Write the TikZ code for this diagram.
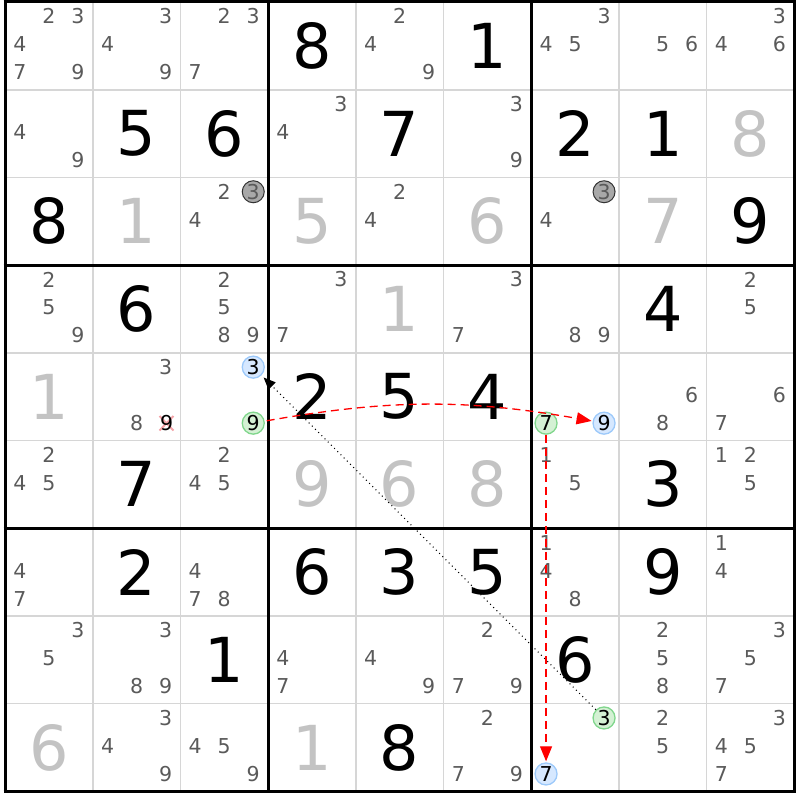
\documentclass[tikz,border=0pt]{standalone}
\usepackage{fontspec}
\setmainfont{DejaVu Sans}
\usepackage{tikz}
\usetikzlibrary{arrows.meta}
\definecolor{candgray}{HTML}{5A5A5A}
\definecolor{solvedgray}{HTML}{C3C3C3}
\definecolor{thinline}{HTML}{D6D6D6}
\definecolor{blueon}{HTML}{D6E8FF}
\definecolor{blueedge}{HTML}{9CC9FA}
\definecolor{greenon}{HTML}{D4F1D4}
\definecolor{greenedge}{HTML}{80D68C}
\definecolor{markgray}{HTML}{A8A8A8}
\definecolor{crosspink}{HTML}{F3A3A8}
\tikzstyle{given} = [inner sep=0pt, font=\fontsize{62}{62}\selectfont]
\tikzstyle{solved} = [given, text=solvedgray]
\tikzstyle{cand} = [inner sep=0pt, font=\fontsize{20.5}{20.5}\selectfont, text=candgray]
\tikzstyle{oncand} = [cand, text=black, circle, minimum size=22pt, line width=1.3pt, draw=blueedge, fill=blueon]
\tikzstyle{offcand} = [oncand, draw=greenedge, fill=greenon]
\tikzstyle{pincand} = [oncand, draw=black!80, fill=markgray, text=candgray, line width=1pt]
\tikzstyle{weaklink} = [dash pattern=on 1pt off 3.5pt, line width=1pt, -{Triangle[length=12pt,width=10pt]}]
\tikzstyle{stronglink} = [red, dash pattern=on 8pt off 5pt, line width=1.3pt, -{Triangle[length=15pt,width=12pt]}]
\tikzset{x=1pt, y=-1pt}

\begin{document}
\begin{tikzpicture}
        \useasboundingbox (0,0) rectangle (800,800);
        % Draw the thin cell lines
        \foreach \i in {1,2,4,5,7,8} {
            \draw[thinline, line width=1.6pt] ({5+\i*87.7},2) -- ({5+\i*87.7},791.3);
            \draw[thinline, line width=1.6pt] (5,{2+\i*87.7}) -- (794.3,{2+\i*87.7});
        }
        % Draw the box lines
        \foreach \i in {0,3,6,9} {
            \draw[line width=3pt] ({5+\i*87.7},0.5) -- ({5+\i*87.7},792.8);
            \draw[line width=3pt] (3.5,{2+\i*87.7}) -- (795.8,{2+\i*87.7});
        }

        % Givens and solved cells
        \foreach \r/\c/\v in {1/4/8, 1/6/1, 2/2/5, 2/3/6, 2/5/7, 2/7/2, 2/8/1, 3/1/8, 3/9/9,
                4/2/6, 4/8/4, 5/4/2, 5/5/5, 5/6/4, 6/2/7, 6/8/3, 7/2/2, 7/4/6, 7/5/3,
                7/6/5, 7/8/9, 8/3/1, 8/7/6, 9/5/8}
            \node[given] (v-\r-\c) at ({5+(\c-0.5)*87.7},{2+(\r-0.5)*87.7}) {\v};
        \foreach \r/\c/\v in {2/9/8, 3/2/1, 3/4/5, 3/6/6, 3/8/7, 4/5/1, 5/1/1, 6/4/9,
                6/5/6, 6/6/8, 9/1/6, 9/4/1}
            \node[solved] (v-\r-\c) at ({5+(\c-0.5)*87.7},{2+(\r-0.5)*87.7}) {\v};

        % Pencil marks
        \foreach \r/\c/\ds in {1/1/{2,3,4,7,9}, 1/2/{3,4,9}, 1/3/{2,3,7}, 1/5/{2,4,9},
                1/7/{3,4,5}, 1/8/{5,6}, 1/9/{3,4,6}, 2/1/{4,9}, 2/4/{3,4}, 2/6/{3,9},
                3/3/{2,4}, 3/5/{2,4}, 3/7/{4}, 4/1/{2,5,9}, 4/3/{2,5,8,9}, 4/4/{3,7},
                4/6/{3,7}, 4/7/{8,9}, 4/9/{2,5}, 5/2/{3,8}, 5/8/{6,8}, 5/9/{6,7},
                6/1/{2,4,5}, 6/3/{2,4,5}, 6/7/{1,5}, 6/9/{1,2,5}, 7/1/{4,7}, 7/3/{4,7,8},
                7/7/{1,4,8}, 7/9/{1,4}, 8/1/{3,5}, 8/2/{3,8,9}, 8/4/{4,7}, 8/5/{4,9},
                8/6/{2,7,9}, 8/8/{2,5,8}, 8/9/{3,5,7}, 9/2/{3,4,9}, 9/3/{4,5,9},
                9/6/{2,7,9}, 9/8/{2,5}, 9/9/{3,4,5,7}}
            \foreach \d in \ds {
                \pgfmathsetmacro{\px}{5+(\c-0.5)*87.7+(mod(\d-1,3)-1)*29}
                \pgfmathsetmacro{\py}{0.5+(\r-0.5)*87.7+(floor((\d-1)/3)-1)*28}
                \node[cand] (n-\r-\c-\d) at (\px,\py) {\d};
            }

        % Marked pencil marks
        \foreach \r/\c/\d/\kind in {5/3/3/oncand, 5/3/9/offcand, 5/7/7/offcand, 5/7/9/oncand,
                9/7/3/offcand, 9/7/7/oncand, 3/3/3/pincand, 3/7/3/pincand} {
            \pgfmathsetmacro{\px}{5+(\c-0.5)*87.7+(mod(\d-1,3)-1)*29}
            \pgfmathsetmacro{\py}{0.5+(\r-0.5)*87.7+(floor((\d-1)/3)-1)*28}
            \node[\kind] (n-\r-\c-\d) at (\px,\py) {\d};
        }

        % Removed candidate
        \draw[crosspink, line width=2pt] (159.5,416) -- (173.5,430.5) (159.5,430.5) -- (173.5,416);
        \node[cand, text=black] (n-5-2-9) at (166.55,423.15) {9};

        % Links
        \draw[weaklink, shorten >=3pt] (n-9-7-3) -- (n-5-3-3);
        \draw[stronglink, shorten <=2pt, shorten >=1pt] (n-5-3-9) to[bend left=10] (n-5-7-9);
        \draw[stronglink, shorten >=1pt] (n-5-7-7) -- (n-9-7-7);
    \end{tikzpicture}
\end{document}
